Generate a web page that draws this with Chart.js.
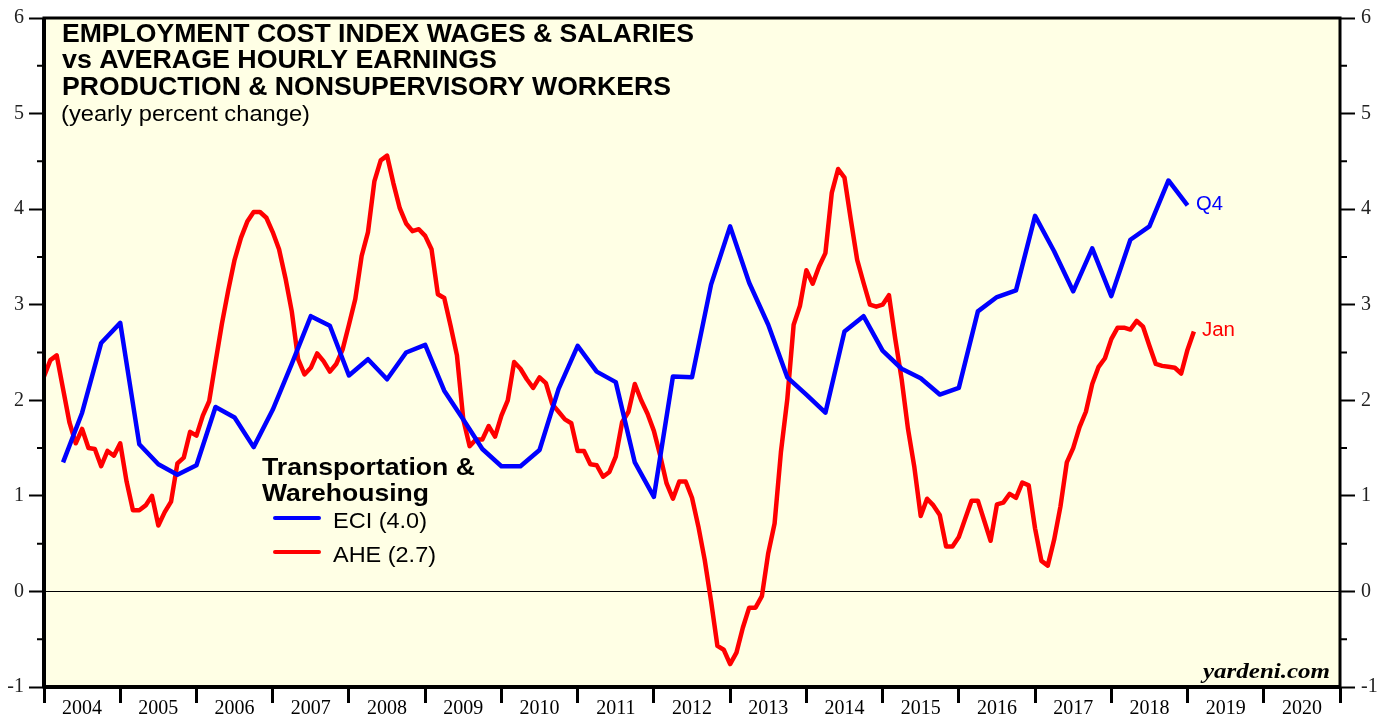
<!DOCTYPE html>
<html>
<head>
<meta charset="utf-8">
<script src="https://cdn.jsdelivr.net/npm/chart.js@4/dist/chart.umd.min.js"></script>
<style>
  body { margin: 0; background: #fff; }
</style>
</head>
<body>
<canvas id="myChart" width="1387" height="717"></canvas>
<script>
// year labels shown between the year ticks
const yearLabels = ["2004", "2005", "2006", "2007", "2008", "2009", "2010", "2011", "2012",
  "2013", "2014", "2015", "2016", "2017", "2018", "2019", "2020"];

// ECI wages & salaries, yearly % change, quarterly from 2004 Q1 to 2018 Q4
const eciValues = [
  1.35, 1.87, 2.60, 2.81,
  1.54, 1.33, 1.22, 1.32,
  1.93, 1.82, 1.51, 1.90,
  2.38, 2.88, 2.78, 2.26,
  2.43, 2.22, 2.50, 2.58,
  2.10, 1.80, 1.49, 1.31,
  1.31, 1.48, 2.12, 2.57,
  2.30, 2.19, 1.35, 0.99,
  2.25, 2.24, 3.21, 3.82,
  3.23, 2.79, 2.24, 2.06,
  1.87, 2.72, 2.88, 2.52,
  2.33, 2.23, 2.06, 2.13,
  2.93, 3.08, 3.15, 3.93,
  3.56, 3.14, 3.59, 3.09,
  3.68, 3.82, 4.30, 4.04
];

// AHE production & nonsupervisory, yearly % change, monthly from Dec 2003 to Jan 2019
const aheValues = [
  2.25, 2.42, 2.47, 2.12, 1.77, 1.55, 1.70, 1.50, 1.49, 1.31, 1.47, 1.42, 1.55,
  1.15, 0.85, 0.85, 0.90, 1.00, 0.69, 0.83, 0.94, 1.34, 1.40, 1.67, 1.63,
  1.84, 1.99, 2.40, 2.80, 3.15, 3.47, 3.70, 3.87, 3.97, 3.97, 3.91, 3.76,
  3.58, 3.28, 2.93, 2.43, 2.27, 2.34, 2.49, 2.41, 2.30, 2.38, 2.53, 2.79,
  3.06, 3.51, 3.76, 4.29, 4.51, 4.56, 4.27, 4.01, 3.85, 3.77, 3.79, 3.72,
  3.58, 3.11, 3.07, 2.78, 2.47, 1.80, 1.52, 1.59, 1.59, 1.73, 1.62, 1.84,
  2.00, 2.40, 2.33, 2.22, 2.13, 2.24, 2.18, 1.96, 1.88, 1.80, 1.76, 1.47,
  1.47, 1.33, 1.32, 1.20, 1.25, 1.41, 1.77, 1.88, 2.17, 2.00, 1.86, 1.68,
  1.42, 1.13, 0.97, 1.15, 1.15, 0.98, 0.68, 0.33, -0.10, -0.57, -0.61, -0.76,
  -0.64, -0.38, -0.17, -0.17, -0.05, 0.40, 0.71, 1.46, 2.01, 2.79, 2.99, 3.36,
  3.22, 3.40, 3.54, 4.17, 4.42, 4.33, 3.89, 3.47, 3.23, 3.00, 2.98, 3.00,
  3.10, 2.64, 2.22, 1.70, 1.30, 0.79, 0.97, 0.90, 0.80, 0.47, 0.47, 0.57,
  0.76, 0.95, 0.95, 0.74, 0.53, 0.91, 0.93, 1.02, 0.98, 1.14, 1.11, 0.66,
  0.32, 0.27, 0.54, 0.89, 1.35, 1.50, 1.72, 1.88, 2.17, 2.35, 2.44, 2.64,
  2.76, 2.76, 2.74, 2.83, 2.77, 2.57, 2.38, 2.36, 2.35, 2.34, 2.28, 2.53,
  2.72
];

const firstYear = 2004;
const lastYear = 2021;

const eciPoints = eciValues.map((v, i) => ({ x: firstYear + (i + 1) / 4, y: v }));
const ahePoints = aheValues.map((v, i) => ({ x: firstYear + i / 12, y: v }));

const serif = "'Liberation Serif', 'Times New Roman', serif";
const sans = "'Liberation Sans', Arial, sans-serif";
const clear = "rgba(0,0,0,0)";

// text drawn a little wider than the font, like the original
function wideText(ctx, text, x, y, font, color, width, align) {
  ctx.save();
  ctx.font = font;
  ctx.fillStyle = color;
  ctx.textBaseline = "alphabetic";
  const w = ctx.measureText(text).width;
  const sx = width ? width / w : 1;
  ctx.translate(align === "right" ? x - w * sx : x, y);
  ctx.scale(sx, 1);
  ctx.fillText(text, 0, 0);
  ctx.restore();
}

const framePlugin = {
  id: "frame",
  beforeDraw(chart) {
    const { ctx, chartArea: a } = chart;
    ctx.save();
    ctx.fillStyle = "#ffffff";
    ctx.fillRect(0, 0, chart.width, chart.height);
    ctx.fillStyle = "#ffffe5";
    ctx.fillRect(a.left, a.top, a.right - a.left, a.bottom - a.top);
    ctx.restore();
  },
  afterDraw(chart) {
    const { ctx, chartArea: a } = chart;
    const yl = chart.scales.y;
    ctx.save();

    // minor ticks on both sides
    ctx.strokeStyle = "#000";
    ctx.lineWidth = 2;
    for (let v = -0.5; v < 6; v += 1) {
      const p = yl.getPixelForValue(v);
      ctx.beginPath();
      ctx.moveTo(a.left - 7, p);
      ctx.lineTo(a.left, p);
      ctx.moveTo(a.right, p);
      ctx.lineTo(a.right + 7, p);
      ctx.stroke();
    }

    // frame
    ctx.lineWidth = 3;
    ctx.strokeRect(a.left, a.top, a.right - a.left, a.bottom - a.top);
    ctx.lineWidth = 4;
    ctx.beginPath();
    ctx.moveTo(a.left - 1, a.bottom);
    ctx.lineTo(a.right + 1, a.bottom);
    ctx.moveTo(a.left, a.top);
    ctx.lineTo(a.left, a.bottom);
    ctx.stroke();

    // titles
    wideText(ctx, "EMPLOYMENT COST INDEX WAGES & SALARIES", 62, 42, "bold 25px " + sans, "#000", 632);
    wideText(ctx, "vs AVERAGE HOURLY EARNINGS", 62, 68, "bold 25px " + sans, "#000", 435);
    wideText(ctx, "PRODUCTION & NONSUPERVISORY WORKERS", 62, 95, "bold 25px " + sans, "#000", 609);
    wideText(ctx, "(yearly percent change)", 61, 121, "22px " + sans, "#000", 249);

    // legend
    wideText(ctx, "Transportation &", 262, 475, "bold 24px " + sans, "#000", 213);
    wideText(ctx, "Warehousing", 262, 501, "bold 24px " + sans, "#000", 167);
    ctx.lineWidth = 4;
    ctx.lineCap = "round";
    ctx.strokeStyle = "#0000ff";
    ctx.beginPath();
    ctx.moveTo(275, 518);
    ctx.lineTo(319, 518);
    ctx.stroke();
    ctx.strokeStyle = "#ff0000";
    ctx.beginPath();
    ctx.moveTo(275, 552);
    ctx.lineTo(319, 552);
    ctx.stroke();
    wideText(ctx, "ECI (4.0)", 333, 528, "22px " + sans, "#000", 94);
    wideText(ctx, "AHE (2.7)", 333, 562, "22px " + sans, "#000", 103);

    // end labels
    wideText(ctx, "Q4", 1196, 210, "20px " + sans, "#0000ff", 27);
    wideText(ctx, "Jan", 1202, 336, "20px " + sans, "#ff0000", 33);

    // source
    wideText(ctx, "yardeni.com", 1330, 678, "italic bold 21px " + serif, "#000", 127, "right");

    ctx.restore();
  }
};

const ctx = document.getElementById("myChart").getContext("2d");

const myChart = new Chart(ctx, {
  type: "line",
  data: {
    datasets: [
      {
        label: "ECI",
        data: eciPoints,
        borderColor: "#0000ff",
        borderWidth: 4.5,
        borderJoinStyle: "round",
        pointRadius: 0,
        tension: 0,
        fill: false,
        yAxisID: "y"
      },
      {
        label: "AHE",
        data: ahePoints,
        borderColor: "#ff0000",
        borderWidth: 4.5,
        borderJoinStyle: "round",
        pointRadius: 0,
        tension: 0,
        fill: false,
        yAxisID: "y"
      }
    ]
  },
  options: {
    responsive: false,
    animation: false,
    layout: { padding: { top: 14, left: 0, right: 0, bottom: 0 } },
    plugins: {
      legend: { display: false },
      title: { display: false },
      tooltip: { enabled: false }
    },
    scales: {
      x: {
        type: "linear",
        min: firstYear,
        max: lastYear,
        afterBuildTicks: (scale) => {
          const t = [];
          for (let yr = firstYear; yr <= lastYear; yr++) {
            t.push({ value: yr });
            if (yr < lastYear) t.push({ value: yr + 0.5 });
          }
          scale.ticks = t;
        },
        afterFit: (scale) => { scale.height = 30; },
        border: { display: false },
        grid: {
          drawOnChartArea: false,
          drawTicks: true,
          tickLength: 16,
          tickWidth: 3,
          tickColor: (c) => (Number.isInteger(c.tick.value) ? "#000" : clear)
        },
        ticks: {
          autoSkip: false,
          maxRotation: 0,
          padding: -6,
          color: "#000",
          font: { family: serif, size: 20 },
          callback: (v) => (Number.isInteger(v) ? "" : yearLabels[Math.floor(v) - firstYear])
        }
      },
      y: {
        position: "left",
        min: -1,
        max: 6,
        afterBuildTicks: (scale) => {
          const t = [];
          for (let v = -1; v <= 6; v++) t.push({ value: v });
          scale.ticks = t;
        },
        afterFit: (scale) => { scale.width = 44; },
        border: { display: false },
        grid: {
          drawOnChartArea: true,
          color: (c) => (c.tick.value === 0 ? "#000" : clear),
          lineWidth: 1,
          tickLength: 15,
          tickWidth: 2,
          tickColor: "#000"
        },
        ticks: {
          padding: 5,
          color: "#222",
          font: { family: serif, size: 20 },
          callback: (v) => String(v)
        }
      },
      y2: {
        position: "right",
        min: -1,
        max: 6,
        afterBuildTicks: (scale) => {
          const t = [];
          for (let v = -1; v <= 6; v++) t.push({ value: v });
          scale.ticks = t;
        },
        afterFit: (scale) => { scale.width = 47; },
        border: { display: false },
        grid: {
          drawOnChartArea: false,
          tickLength: 15,
          tickWidth: 2,
          tickColor: "#000"
        },
        ticks: {
          padding: 6,
          color: "#222",
          font: { family: serif, size: 20 },
          callback: (v) => String(v)
        }
      }
    }
  },
  plugins: [framePlugin]
});
</script>
</body>
</html>
